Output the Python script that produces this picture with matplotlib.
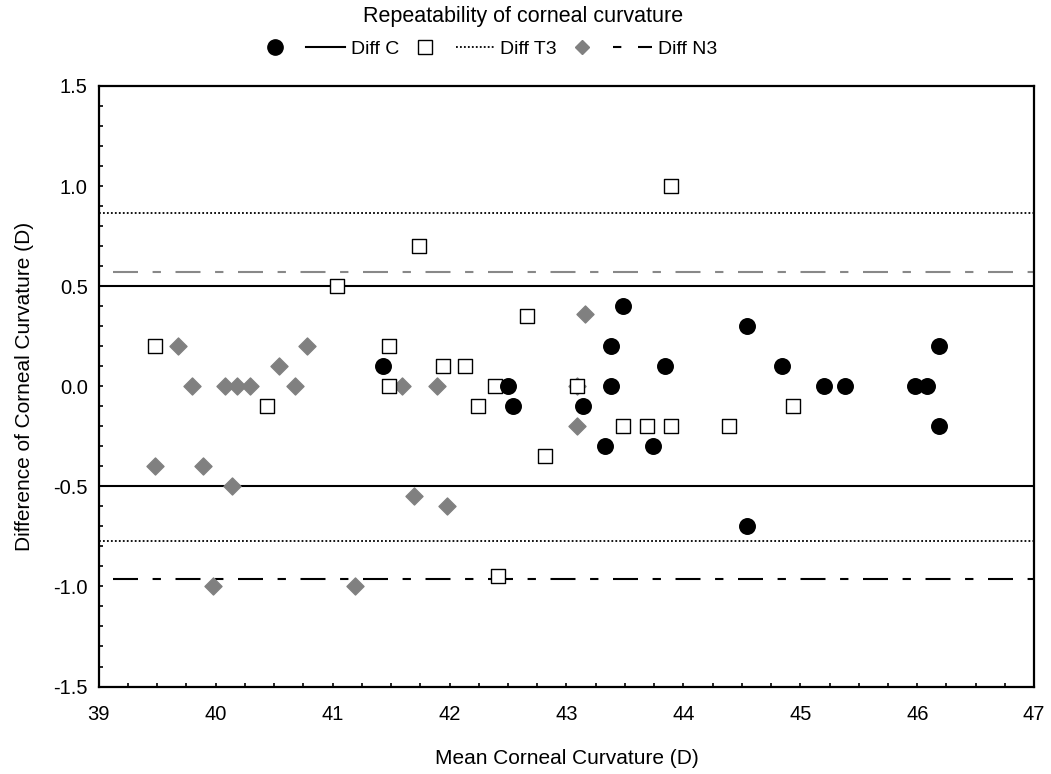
import numpy as np
import matplotlib.pyplot as plt
from matplotlib.lines import Line2D
from matplotlib.ticker import MultipleLocator

plt.rcParams['font.family'] = ['Liberation Sans', 'DejaVu Sans']

# Datos
c_x = [41.43, 42.50, 42.54, 43.14, 43.33, 43.38, 43.38, 43.48, 43.74, 43.84,
       44.54, 44.54, 44.84, 45.20, 45.38, 45.98, 46.08, 46.19, 46.19]
c_y = [0.1, 0.0, -0.1, -0.1, -0.3, 0.2, 0.0, 0.4, -0.3, 0.1,
       0.3, -0.7, 0.1, 0.0, 0.0, 0.0, 0.0, 0.2, -0.2]

t3_x = [39.48, 40.44, 41.04, 41.74, 41.48, 41.48, 43.89, 42.66, 41.94, 42.13,
        42.39, 42.24, 43.09, 43.48, 43.69, 43.89, 44.39, 42.82, 42.41, 44.94]
t3_y = [0.2, -0.1, 0.5, 0.7, 0.2, 0.0, 1.0, 0.35, 0.1, 0.1,
        0.0, -0.1, 0.0, -0.2, -0.2, -0.2, -0.2, -0.35, -0.95, -0.1]

n3_x = [39.48, 39.68, 39.80, 39.89, 39.98, 40.08, 40.14, 40.18, 40.29, 40.54,
        40.68, 40.78, 41.19, 41.59, 41.70, 41.89, 41.98, 43.09, 43.09, 43.16]
n3_y = [-0.4, 0.2, 0.0, -0.4, -1.0, 0.0, -0.5, 0.0, 0.0, 0.1,
        0.0, 0.2, -1.0, 0.0, -0.55, 0.0, -0.6, 0.0, -0.2, 0.36]

# Límites de acuerdo
lim_c = [0.5, -0.5]
lim_t3 = [0.865, -0.775]
lim_n3 = [0.57, -0.963]

fig = plt.figure(figsize=(10.51, 7.74), dpi=100)
ax = fig.add_axes([0.094, 0.113, 0.89, 0.776])

dotted = (0, (1, 1.2))
dashdot = (0, (12, 7, 4, 7))
ax.axhline(lim_c[0], color='black', lw=1.5)
ax.axhline(lim_c[1], color='black', lw=1.5)
ax.axhline(lim_t3[0], color='black', lw=1.3, ls=dotted)
ax.axhline(lim_t3[1], color='black', lw=1.3, ls=dotted)
ax.plot([39.12, 47], [lim_n3[0]] * 2, color='#888888', lw=1.5, ls=dashdot)
ax.plot([39.12, 47], [lim_n3[1]] * 2, color='black', lw=1.5, ls=dashdot)

ax.scatter(n3_x, n3_y, marker='D', s=75, color='#808080', zorder=3)
ax.scatter(t3_x, t3_y, marker='s', s=110, facecolor='white', edgecolor='black',
           linewidth=1, zorder=4)
ax.scatter(c_x, c_y, marker='o', s=125, color='black', zorder=5)

ax.set_xlim(39, 47)
ax.set_ylim(-1.5, 1.5)
ax.xaxis.set_major_locator(MultipleLocator(1))
ax.xaxis.set_minor_locator(MultipleLocator(0.25))
ax.yaxis.set_major_locator(MultipleLocator(0.5))
ax.yaxis.set_minor_locator(MultipleLocator(0.1))
ax.yaxis.set_major_formatter(plt.FuncFormatter(lambda v, p: f'{v:.1f}'))
ax.tick_params(which='both', direction='in', length=3, width=1.2, labelsize=14.5, pad=8)
ax.tick_params(axis='x', pad=13)
for s in ax.spines.values():
    s.set_linewidth(1.6)

ax.set_xlabel('Mean Corneal Curvature (D)', fontsize=15, labelpad=18)
ax.set_ylabel('Difference of Corneal Curvature (D)', fontsize=15, labelpad=14)

fig.text(0.498, 0.979, 'Repeatability of corneal curvature', fontsize=15.5,
         ha='center', va='center')

handles = [
    Line2D([], [], marker='o', color='black', ls='none', markersize=11),
    Line2D([], [], color='black', lw=1.5),
    Line2D([], [], marker='s', markerfacecolor='white', markeredgecolor='black', ls='none', markersize=10),
    Line2D([], [], color='black', lw=1.3, ls=dotted),
    Line2D([], [], marker='D', color='#808080', ls='none', markersize=7.5),
    Line2D([], [], color='black', lw=1.5, ls=(0, (4, 8, 12, 6))),
]
labels = ['', 'Diff C', '', 'Diff T3', '', 'Diff N3']
fig.legend(handles, labels, ncol=6, loc='center', bbox_to_anchor=(0.463, 0.937),
           frameon=False, fontsize=14, columnspacing=0.3, handletextpad=0.3,
           handlelength=2.0, borderpad=0)

plt.savefig('out.png', dpi=100)
